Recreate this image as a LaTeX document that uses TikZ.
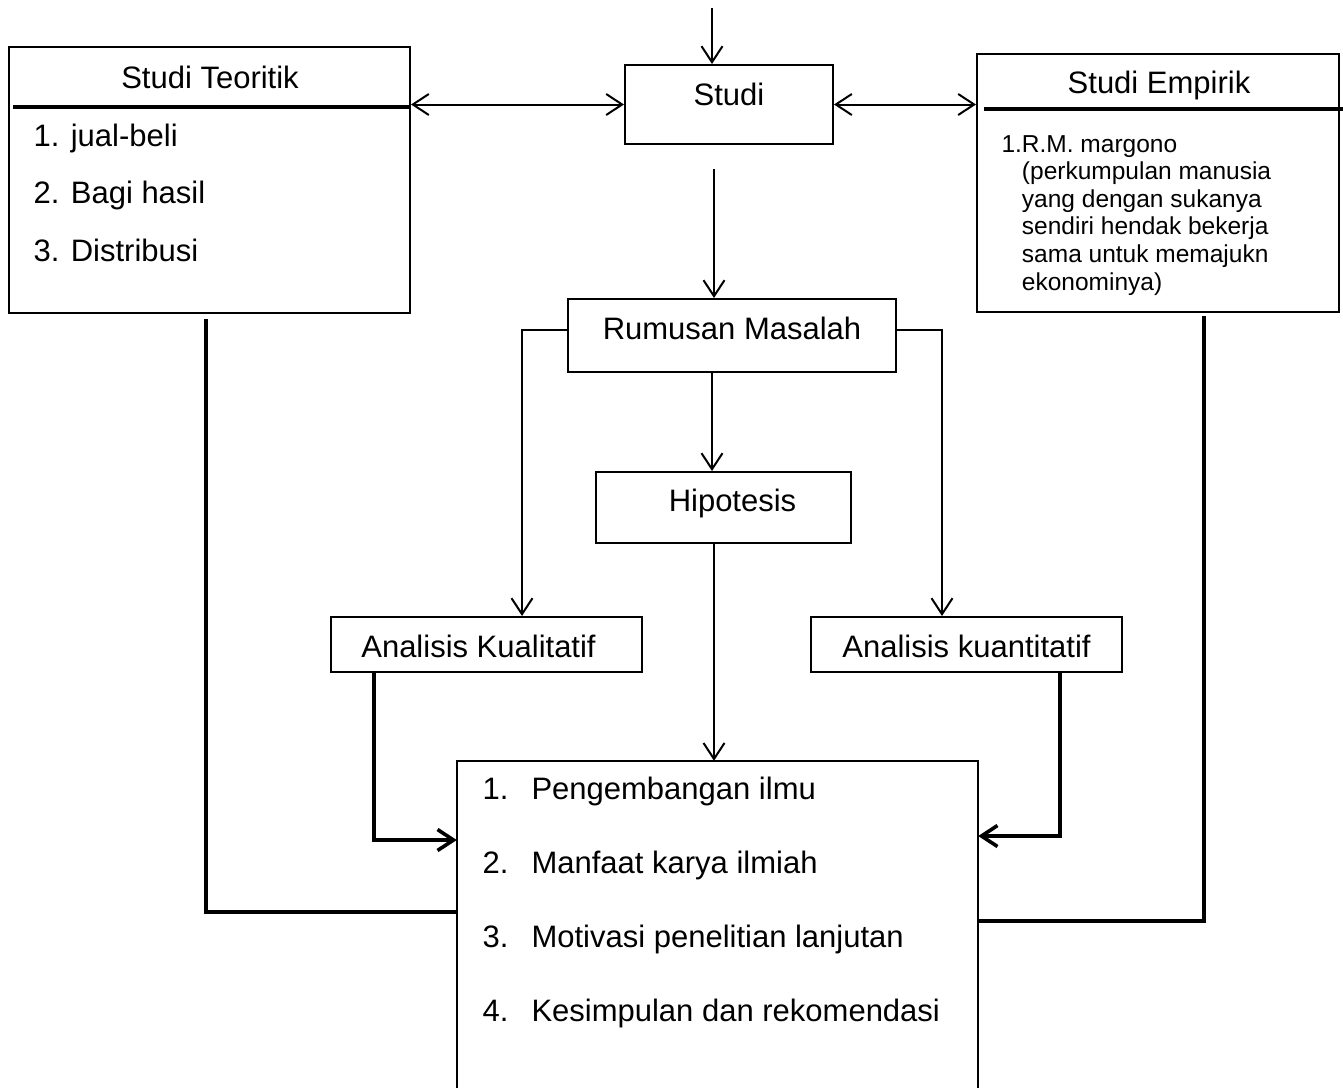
\documentclass[tikz,border=0pt]{standalone}
\usepackage{fontspec}
\setmainfont{Liberation Sans}
\usepackage{tikz}
\usetikzlibrary{arrows.meta}
\tikzset{kotak/.style = {draw, rectangle, line width = 2pt, inner sep = 0}}
\tikzset{tipis/.style = {line width = 2pt}}
\tikzset{tebal/.style = {line width = 3.6pt}}

\begin{document}
\begin{tikzpicture}[x = 1pt, y = -1pt, >={Straight Barb[length = 16pt, width = 21pt]},
    font = \fontsize{31}{37}\selectfont]
    \useasboundingbox (0, 0) rectangle (1343, 1088);

    % kotak kiri
    \node [kotak, minimum width = 401pt, minimum height = 266pt] (teoritik) at (209.5, 180) {};
    \node [anchor = base] (judulteori) at (210, 88) {Studi Teoritik};
    \draw [tebal] (13, 107) -- (teoritik.east |- 0, 107);
    \node [anchor = base west, align = left, font = \fontsize{31}{57.5}\selectfont] (isiteori) at (30, 261)
      {1. jual-beli\\2. Bagi hasil\\3. Distribusi};

    % kotak kanan
    \node [kotak, minimum width = 362pt, minimum height = 258pt] (empiris) at (1158, 183) {};
    \node [anchor = base] (judulempiris) at (1159, 93) {Studi Empirik};
    \draw [tebal] (984, 109) -- (1343, 109);
    \node [anchor = base west, align = left, font = \fontsize{24.5}{27.6}\selectfont] (isiempiris) at (998, 290)
      {1.R.M. margono\\
       \hphantom{1.}(perkumpulan manusia\\
       \hphantom{1.}yang dengan sukanya\\
       \hphantom{1.}sendiri hendak bekerja\\
       \hphantom{1.}sama untuk memajukn\\
       \hphantom{1.}ekonominya)};

    % alur tengah
    \coordinate (masuk) at (712, 8);
    \node [kotak, minimum width = 208pt, minimum height = 79pt, text height = 22pt, text depth = 21pt] (studi) at (729, 104.5) {Studi};
    \node [kotak, minimum width = 328pt, minimum height = 73pt, text height = 22pt, text depth = 15pt] (rumusan) at (732, 335.5) {Rumusan Masalah};
    \node [kotak, minimum width = 255pt, minimum height = 71pt, text height = 22pt, text depth = 15pt] (hipotesis) at (723.5, 507.5) {\hspace*{18pt}Hipotesis};
    \node [kotak, minimum width = 311pt, minimum height = 55pt, text height = 25pt, text depth = 0pt] (kualitatif) at (486.5, 644.5) {Analisis Kualitatif\hspace*{16pt}};
    \node [kotak, minimum width = 311pt, minimum height = 55pt, text height = 25pt, text depth = 0pt] (kuantitatif) at (966.5, 644.5) {Analisis kuantitatif};

    % kotak bawah (terpotong di tepi bawah)
    \node [minimum width = 521pt, minimum height = 327pt, inner sep = 0] (hasil) at (717.5, 924.5) {};
    \draw [tipis] (hasil.south west) -- (hasil.north west) -- (hasil.north east) -- (hasil.south east);
    \node [anchor = base west, align = left, font = \fontsize{31}{73.7}\selectfont] (isihasil) at (479, 1021)
      {\makebox[49pt][l]{1.}Pengembangan ilmu\\
       \makebox[49pt][l]{2.}Manfaat karya ilmiah\\
       \makebox[49pt][l]{3.}Motivasi penelitian lanjutan\\
       \makebox[49pt][l]{4.}Kesimpulan dan rekomendasi};

    % panah
    \draw [tipis, ->] (masuk) -- (masuk |- studi.north);
    \draw [tipis, <->] (studi.west -| teoritik.east) -- (studi.west);
    \draw [tipis, <->] (studi.east) -- (studi.east -| empiris.west);
    \draw [tipis, ->, shorten <= 24pt] (studi.south -| 714, 0) -- (rumusan.north -| 714, 0);
    \draw [tipis, ->] ([yshift = 6pt]rumusan.west) -| (kualitatif.north -| 522, 0);
    \draw [tipis, ->] ([yshift = 6pt]rumusan.east) -| (kuantitatif.north -| 942, 0);
    \draw [tipis, ->] (rumusan.south -| 712, 0) -- (hipotesis.north -| 712, 0);
    \draw [tipis, ->] (hipotesis.south -| 714, 0) -- (hasil.north -| 714, 0);
    \draw [tebal, ->] (kualitatif.south -| 374, 0) |- (hasil.west |- 0, 840);
    \draw [tebal, ->] (kuantitatif.south -| 1060, 0) |- (hasil.east |- 0, 836);
    \draw [tebal, shorten <= 5pt] (teoritik.south -| 206, 0) |- (hasil.west |- 0, 912);
    \draw [tebal, shorten <= 3pt] (empiris.south -| 1204, 0) |- (hasil.east |- 0, 921);
\end{tikzpicture}
\end{document}
